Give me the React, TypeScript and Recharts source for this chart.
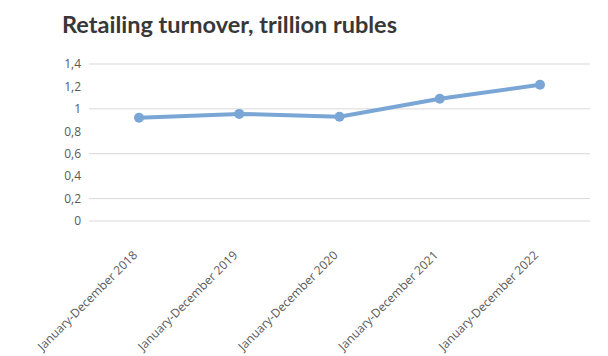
import { CartesianGrid, Line, LineChart, XAxis, YAxis } from 'recharts'

const periods = [
    'January-December 2018',
    'January-December 2019',
    'January-December 2020',
    'January-December 2021',
    'January-December 2022',
]

const turnover = [0.92, 0.955, 0.93, 1.09, 1.215] // trillion rubles

const yTicks = [0, 0.2, 0.4, 0.6, 0.8, 1, 1.2, 1.4]

const data = periods.map((name, i) => ({ name, turnover: turnover[i] }))

const fontFamily = '"Open Sans", "Noto Sans", sans-serif'

const AngledTick = ({ x, y, payload }: any) => (
    <text
        x={x - 1}
        y={y + 27}
        transform={`rotate(-45, ${x - 1}, ${y + 27})`}
        textAnchor="end"
        fill="#595959"
        fontSize={12}
        fontFamily={fontFamily}
    >
        {payload.value}
    </text>
)

export default function App() {
    return (
        <div style={{ position: 'absolute', left: 0, top: 0, width: 608, height: 356, background: '#fff' }}>
            <div
                style={{
                    position: 'absolute',
                    left: 62,
                    top: 10,
                    fontFamily: 'Lato, sans-serif',
                    fontWeight: 700,
                    fontSize: 23.5,
                    color: '#383838',
                    whiteSpace: 'nowrap',
                }}
            >
                Retailing turnover, trillion rubles
            </div>
            <LineChart width={608} height={356} data={data} margin={{ top: 64, right: 18, bottom: 0, left: 0 }}>
                <CartesianGrid vertical={false} stroke="#d9d9d9" />
                <XAxis
                    dataKey="name"
                    axisLine={false}
                    tickLine={false}
                    height={135}
                    interval={0}
                    padding={{ left: 50, right: 50 }}
                    tick={<AngledTick />}
                />
                <YAxis
                    domain={[0, 1.4]}
                    ticks={yTicks}
                    width={89}
                    axisLine={false}
                    tickLine={false}
                    tickFormatter={(v: number) => String(v).replace('.', ',')}
                    tick={{ fill: '#595959', fontSize: 12, fontFamily }}
                />
                <Line
                    dataKey="turnover"
                    stroke="#7aa6d6"
                    strokeWidth={4}
                    dot={{ r: 5, fill: '#7aa6d6', stroke: '#7aa6d6', strokeWidth: 0 }}
                    isAnimationActive={false}
                />
            </LineChart>
        </div>
    )
}
